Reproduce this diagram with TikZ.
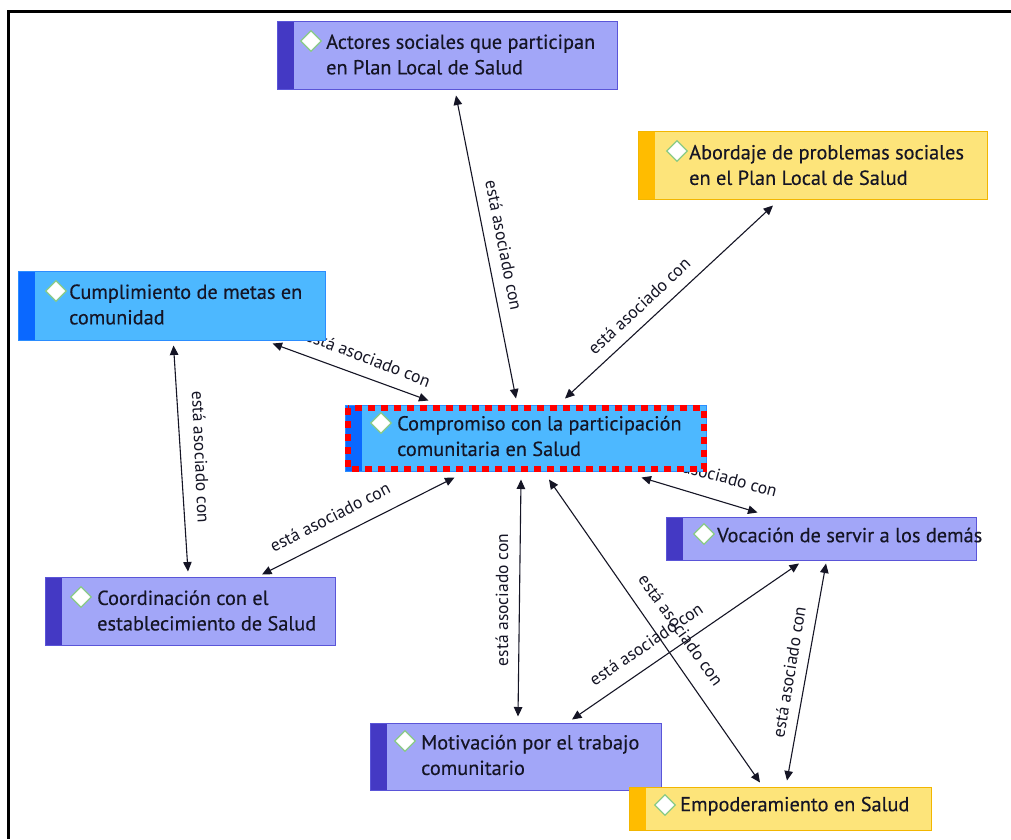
\documentclass[tikz,border=0pt]{standalone}
\usepackage{fontspec}
\setmainfont{PT Sans}
\newfontfamily\capfont{PT Sans}[BoldFont={PT Sans}, BoldFeatures={FakeBold=0.35}]
\usetikzlibrary{calc,arrows.meta,shapes.geometric}

\definecolor{periFill}{HTML}{A2A6F8}
\definecolor{periBar}{HTML}{4439C4}
\definecolor{periLine}{HTML}{5A55D8}
\definecolor{sunFill}{HTML}{FDE47A}
\definecolor{sunBar}{HTML}{FFBC00}
\definecolor{sunLine}{HTML}{F2B600}
\definecolor{skyFill}{HTML}{4DB8FF}
\definecolor{skyBar}{HTML}{0A68FF}
\definecolor{skyLine}{HTML}{2B8DFF}
\definecolor{gem}{HTML}{8ACB86}
\definecolor{ink}{HTML}{151525}

\tikzset{
  concept/.style n args={3}{rectangle, draw=#3, fill=#1, line width=1pt, inner sep=0pt,
    path picture={\fill[#2] (path picture bounding box.north west) rectangle
      ([xshift=17pt]path picture bounding box.south west);}},
  peri/.style={concept={periFill}{periBar}{periLine}},
  sun/.style={concept={sunFill}{sunBar}{sunLine}},
  sky/.style={concept={skyFill}{skyBar}{skyLine}},
  gemmark/.style={diamond, draw=gem, fill=white, line width=1.3pt, inner sep=0pt,
    minimum width=21pt, minimum height=21pt},
  caption/.style={anchor=west, align=left, inner sep=0pt, text=ink,
    font=\capfont\bfseries\fontsize{20.3}{25.5}\selectfont},
  assoc/.style={draw=ink, line width=1.1pt,
    {Triangle[length=9.5pt,width=8.5pt]}-{Triangle[length=9.5pt,width=8.5pt]}},
  lbl/.style={inner sep=0pt, text=ink, font=\capfont\fontsize{17.5}{19}\selectfont},
}

\begin{document}
\begin{tikzpicture}[x=1pt,y=-1pt]
\useasboundingbox (0,0) rectangle (1011,839);
\fill[white] (0,0) rectangle (1011,839);
\draw[line width=3pt] (8.5,839) -- (8.5,11.5) -- (1011,11.5);

% relation labels (set first so the boxes cover their ends)
\node[lbl, rotate=-78.8] (l1) at (504,245) {está asociado con};
\node[lbl, rotate=43]    (l2) at (639,306) {está asociado con};
\node[lbl, rotate=-21]   (l3) at (368,358) {está asociado con};
\node[lbl, rotate=-87.5] (l4) at (201,457) {está asociado con};
\node[lbl, rotate=27]    (l5) at (330,517) {está asociado con};
\node[lbl, rotate=90]    (l6) at (502,600) {está asociado con};
\node[lbl, rotate=-15]   (l7) at (713,474) {está asociado con};
\node[lbl, rotate=34]    (l8) at (646,644) {está asociado con};
\node[lbl, rotate=-54.5] (l9) at (681,630) {está asociado con};
\node[lbl, rotate=80.5]  (l10) at (789,672) {está asociado con};

% concept boxes
\node[peri, minimum width=340pt, minimum height=68pt] (act) at (447,55) {};
\node[gemmark] (actG) at (311,41) {};
\node[caption] (actT) at (326,54.5) {Actores sociales que participan\\en Plan Local de Salud};

\node[sun, minimum width=349pt, minimum height=68pt] (abo) at (812.5,165) {};
\node[gemmark] (aboG) at (677,151) {};
\node[caption] (aboT) at (689,165) {Abordaje de problemas sociales\\en el Plan Local de Salud};

\node[sky, minimum width=307pt, minimum height=69pt] (cum) at (171.5,305.5) {};
\node[gemmark] (cumG) at (56,291) {};
\node[caption] (cumT) at (69,304.5) {Cumplimiento de metas en\\comunidad};

\node[sky, minimum width=361pt, minimum height=66pt] (comp) at (525.5,438) {};
\node[gemmark] (compG) at (381,423) {};
\node[caption] (compT) at (397,436) {Compromiso con la participación\\comunitaria en Salud};
\draw[red, line width=6pt, dash pattern=on 7pt off 6pt] (348,408) rectangle (703.5,469);

\node[peri, minimum width=310pt, minimum height=43pt] (voc) at (821,538.5) {};
\node[gemmark] (vocG) at (704,534) {};
\node[caption] (vocT) at (717,535) {Vocación de servir a los demás};

\node[peri, minimum width=290pt, minimum height=68pt] (coo) at (190,611) {};
\node[gemmark] (cooG) at (81,597) {};
\node[caption] (cooT) at (97,610.5) {Coordinación con el\\establecimiento de Salud};

\node[peri, minimum width=291pt, minimum height=67pt] (mot) at (515.5,756.5) {};
\node[gemmark] (motG) at (405,741) {};
\node[caption] (motT) at (421,755) {Motivación por el trabajo\\comunitario};

\node[sun, minimum width=302pt, minimum height=43pt] (emp) at (780,808.5) {};
\node[gemmark] (empG) at (665,805) {};
\node[caption] (empT) at (680,806) {Empoderamiento en Salud};

% associations
\draw[assoc] ($(act.south)+(9,6)$) -- ($(comp.north)+(-9.5,-6)$);
\draw[assoc] ($(abo.south)+(-39.5,6)$) -- ($(comp.north)+(39.5,-6)$);
\draw[assoc] ($(cum.south east)+(-53,3)$) -- ($(comp.north west)+(84,-4)$);
\draw[assoc] ($(cum.south)+(2,5)$) -- ($(coo.north)+(-2,-5)$);
\draw[assoc] ($(coo.north)+(72,-2)$) -- ($(comp.south)+(-71,6)$);
\draw[assoc] ($(mot.north)+(2.5,-6)$) -- ($(comp.south)+(-4.5,8)$);
\draw[assoc] ($(voc.north west)+(92,-4)$) -- ($(comp.south east)+(-65,6)$);
\draw[assoc] ($(voc.south)+(-22,3)$) -- ($(mot.north)+(56.5,-3)$);
\draw[assoc] ($(comp.south)+(23.5,8)$) -- ($(emp.north)+(-20,-4)$);
\draw[assoc] ($(voc.south)+(5,3)$) -- ($(emp.north)+(7,-6)$);
\end{tikzpicture}
\end{document}
